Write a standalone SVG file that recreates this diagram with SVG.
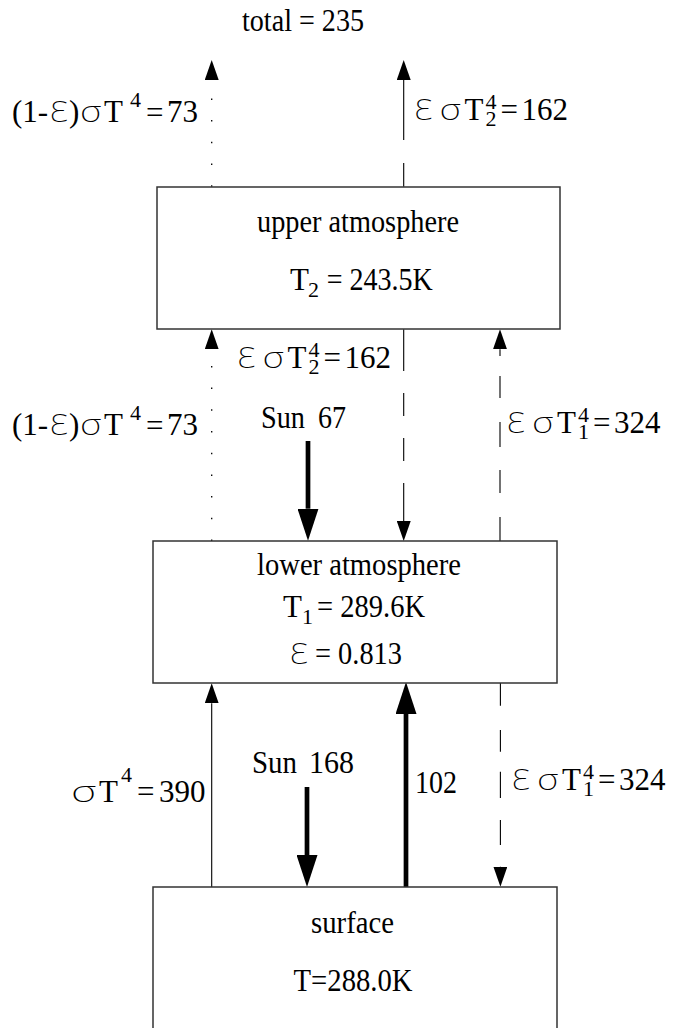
<svg xmlns="http://www.w3.org/2000/svg" width="677" height="1028" viewBox="0 0 677 1028">
<style>
.box{fill:#fff;stroke:#333;stroke-width:1.5}
.t{font-family:"Liberation Serif","Times New Roman",serif;font-size:31px;fill:#000}
.s{font-family:"Liberation Serif","Times New Roman",serif;font-size:22px;fill:#000}
.g{font-family:"Noto Sans","DejaVu Sans",sans-serif;font-weight:200;font-size:29px;fill:#000}
.thin{fill:none;stroke:#000;stroke-width:1.1}
.dot{fill:none;stroke:#000;stroke-width:1.3;stroke-dasharray:1.5 20.2}
.thick{fill:none;stroke:#000;stroke-width:4.7}
</style>
<defs>
<marker id="ah" markerUnits="userSpaceOnUse" markerWidth="20" markerHeight="14" refX="0" refY="7" orient="auto" viewBox="0 0 20 14"><path d="M0,0 L20,7 L0,14 Z" fill="#000"/></marker>
<marker id="ahb" markerUnits="userSpaceOnUse" markerWidth="32" markerHeight="21" refX="0" refY="10.5" orient="auto" viewBox="0 0 32 21"><path d="M0,0 L32,10.5 L0,21 Z" fill="#000"/></marker>
<g id="lblA">
<text class="t" x="0" y="0">(1-</text>
<text class="g" x="38" y="0" textLength="18" lengthAdjust="spacingAndGlyphs">Ɛ</text>
<text class="t" x="57" y="0">)</text>
<text class="g" x="68" y="0" textLength="22" lengthAdjust="spacingAndGlyphs">σ</text>
<text class="t" x="92" y="0">T</text>
<text class="s" x="118" y="-15">4</text>
<text class="t" x="134" y="1" font-size="24">=</text>
<text class="t" x="155" y="0">73</text>
</g>
<g id="lblB">
<text class="g" x="0" y="0" textLength="18" lengthAdjust="spacingAndGlyphs">Ɛ</text>
<text class="g" x="25" y="0" textLength="22" lengthAdjust="spacingAndGlyphs">σ</text>
<text class="t" x="50" y="0">T</text>
<text class="s" x="71" y="-11">4</text>
<text class="t" x="86" y="0">=</text>
</g>
</defs>

<g id="connectors">
<path class="dot" d="M211.7,186.7V80" marker-end="url(#ah)"/>
<path class="thin" d="M403.7,186.7V163M403.7,140V80" marker-end="url(#ah)"/>
<path class="dot" d="M211.7,541V349.3" marker-end="url(#ah)"/>
<path class="thin" d="M403.7,329.3V371M403.7,393V416M403.7,438V461M403.7,483V521" marker-end="url(#ah)"/>
<path class="thin" d="M500,541V517M500,493V470M500,447V422M500,398V376M500,356V349.3" marker-end="url(#ah)"/>
<path class="thick" d="M308,441V508.7" marker-end="url(#ahb)"/>
<path class="thin" d="M211.7,887V703.3" marker-end="url(#ah)"/>
<path class="thick" d="M406,887V714" marker-end="url(#ahb)"/>
<path class="thick" d="M307,787V855" marker-end="url(#ahb)"/>
<path class="thin" d="M500.4,683V705.7M500.4,730V751.7M500.4,771.7V798M500.4,820V845M500.4,866.5V866.7" marker-end="url(#ah)"/>
</g>

<g id="upper">
<rect class="box" x="157" y="187" width="403" height="142"/>
<text class="t" x="257" y="232" textLength="202" lengthAdjust="spacingAndGlyphs">upper atmosphere</text>
<text class="t" x="290" y="290">T</text>
<text class="s" x="308" y="297" font-size="21">2</text>
<text class="t" x="326.7" y="290" textLength="106" lengthAdjust="spacingAndGlyphs">= 243.5K</text>
</g>

<g id="lower">
<rect class="box" x="153" y="541" width="404" height="142"/>
<text class="t" x="257" y="575" textLength="204" lengthAdjust="spacingAndGlyphs">lower atmosphere</text>
<text class="t" x="283" y="617">T</text>
<text class="s" x="302" y="624" font-size="21">1</text>
<text class="t" x="317" y="617" textLength="108" lengthAdjust="spacingAndGlyphs">= 289.6K</text>
<text class="g" x="290" y="664" textLength="18" lengthAdjust="spacingAndGlyphs">Ɛ</text>
<text class="t" x="315" y="664" textLength="87" lengthAdjust="spacingAndGlyphs">= 0.813</text>
</g>

<g id="surface">
<path class="box" d="M153,1040V887H557V1040"/>
<text class="t" x="311" y="933" textLength="83" lengthAdjust="spacingAndGlyphs">surface</text>
<text class="t" x="293.6" y="990.7" textLength="119" lengthAdjust="spacingAndGlyphs">T=288.0K</text>
</g>

<g id="labels">
<text class="t" x="242" y="31" textLength="122" lengthAdjust="spacingAndGlyphs">total = 235</text>
<use href="#lblA" transform="translate(12,121.7)"/>
<use href="#lblA" transform="translate(12,435)"/>

<g transform="translate(414.5,120)">
<use href="#lblB"/>
<text class="s" x="71" y="6">2</text>
<text class="t" x="107" y="0">162</text>
</g>
<g transform="translate(237.5,368)">
<use href="#lblB"/>
<text class="s" x="71" y="6">2</text>
<text class="t" x="107" y="0">162</text>
</g>
<g transform="translate(507,433)">
<use href="#lblB"/>
<text class="s" x="71" y="6">1</text>
<text class="t" x="107" y="0">324</text>
</g>
<g transform="translate(512,790)">
<use href="#lblB"/>
<text class="s" x="71" y="6">1</text>
<text class="t" x="107" y="0">324</text>
</g>

<text class="t" x="261" y="428" textLength="44" lengthAdjust="spacingAndGlyphs">Sun</text>
<text class="t" x="318" y="428" textLength="28" lengthAdjust="spacingAndGlyphs">67</text>
<text class="t" x="252" y="773" textLength="45" lengthAdjust="spacingAndGlyphs">Sun</text>
<text class="t" x="309" y="773" textLength="45" lengthAdjust="spacingAndGlyphs">168</text>
<text class="t" x="415" y="793" textLength="42" lengthAdjust="spacingAndGlyphs">102</text>

<text class="g" x="71" y="801.7" textLength="26" lengthAdjust="spacingAndGlyphs">σ</text>
<text class="t" x="99" y="801.7">T</text>
<text class="s" x="121" y="782">4</text>
<text class="t" x="137" y="801.7">=</text>
<text class="t" x="159" y="801.7">390</text>
</g>
</svg>
